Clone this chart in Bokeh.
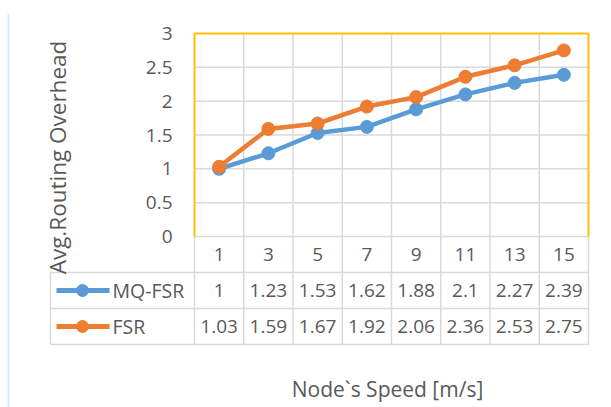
import numpy as np
from bokeh.plotting import figure
from bokeh.models import Range1d
from bokeh.core.properties import value
from bokeh.embed import file_html
from bokeh.resources import INLINE

# ---- data ----
categories = ["1", "3", "5", "7", "9", "11", "13", "15"]
mq_fsr = [1, 1.23, 1.53, 1.62, 1.88, 2.1, 2.27, 2.39]
fsr = [1.03, 1.59, 1.67, 1.92, 2.06, 2.36, 2.53, 2.75]
y_ticks = [0, 0.5, 1, 1.5, 2, 2.5, 3]
y_tick_labels = ["0", "0.5", "1", "1.5", "2", "2.5", "3"]
series_names = ["MQ-FSR", "FSR"]
y_title = "Avg.Routing Overhead"
x_title = "Node`s Speed [m/s]"

# ---- style ----
BLUE = "#5B9BD5"
ORANGE = "#ED7D31"
GOLD = "#FFC000"
GRID = "#D9D9D9"
TEXT = "#595959"
FONT = value("Open Sans")

W, H = 611, 407
slot_px = 49.25      # width of one category slot
unit_px = 67.667     # pixels per 1.0 on the value axis
plot_left_px = 194
plot_top_px = 33
row_px = 36

n = len(categories)
y_top = max(y_ticks)
xmin = -plot_left_px / slot_px
xmax = xmin + W / slot_px
ymax = y_top + plot_top_px / unit_px
ymin = ymax - H / unit_px
h = row_px / unit_px


def px_x(px):
    return xmin + px / slot_px


def px_y(py):
    return ymax - py / unit_px


p = figure(width=W, height=H, output_backend="svg", toolbar_location=None,
           x_range=Range1d(xmin, xmax), y_range=Range1d(ymin, ymax),
           x_axis_location=None, y_axis_location=None, min_border=0)
p.grid.visible = False
p.outline_line_color = None
p.background_fill_color = "white"
p.border_fill_color = "white"

xs = np.arange(n) + 0.5
table_left = px_x(50)

# faint frame line at left
p.segment(x0=[px_x(8)], y0=[px_y(13)], x1=[px_x(8)], y1=[ymin],
          line_color="#DDEBF7", line_width=2)

# horizontal gridlines (inside plot area)
gy = [t for t in y_ticks if 0 < t < y_top]
p.segment(x0=[0] * len(gy), y0=gy, x1=[n] * len(gy), y1=gy,
          line_color=GRID, line_width=1.5)
# vertical gridlines inside plot area
vx = list(range(1, n))
p.segment(x0=vx, y0=[0] * len(vx), x1=vx, y1=[y_top] * len(vx),
          line_color=GRID, line_width=1.5)

# table grid
tv = list(range(0, n + 1))
p.segment(x0=tv, y0=[0] * len(tv), x1=tv, y1=[-3 * h] * len(tv),
          line_color=GRID, line_width=1.5)
p.segment(x0=[table_left], y0=[-h], x1=[table_left], y1=[-3 * h],
          line_color=GRID, line_width=1.5)
p.segment(x0=[0], y0=[0], x1=[n], y1=[0], line_color=GRID, line_width=1.5)
hr = [-h, -2 * h, -3 * h]
p.segment(x0=[table_left] * 3, y0=hr, x1=[n] * 3, y1=hr,
          line_color=GRID, line_width=1.5)

# gold plot border
p.line(x=[0, 0, n, n], y=[0, y_top, y_top, 0], line_color=GOLD, line_width=2)

# series
for vals, col in [(mq_fsr, BLUE), (fsr, ORANGE)]:
    p.line(x=xs, y=vals, line_color=col, line_width=4.5)
    p.scatter(x=xs, y=vals, size=13, fill_color=col, line_color=col)

# y tick labels
p.text(x=[px_x(172)] * len(y_ticks), y=y_ticks, text=y_tick_labels,
       text_align="right", text_baseline="middle", text_color=TEXT,
       text_font=FONT, text_font_size=value("19px"))

# table header (categories)
p.text(x=xs, y=[-h / 2] * n, text=categories, text_align="center",
       text_baseline="middle", text_color=TEXT, text_font=FONT,
       text_font_size=value("19px"))

# table rows
for r, (name, vals, col) in enumerate(zip(series_names, [mq_fsr, fsr], [BLUE, ORANGE])):
    yc = -(r + 1.5) * h
    p.text(x=xs, y=[yc] * n, text=[f"{v:g}" for v in vals], text_align="center",
           text_baseline="middle", text_color=TEXT, text_font=FONT,
           text_font_size=value("19px"))
    p.segment(x0=[px_x(56)], y0=[yc], x1=[px_x(109)], y1=[yc],
              line_color=col, line_width=5)
    p.scatter(x=[px_x(82)], y=[yc], size=12, fill_color=col, line_color=col)
    p.text(x=[px_x(112)], y=[yc], text=[name], text_align="left",
           text_baseline="middle", text_color=TEXT, text_font=FONT,
           text_font_size=value("19.5px"))

# axis titles
p.text(x=[px_x(57)], y=[px_y(157)], text=[y_title], angle=np.pi / 2,
       text_align="center", text_baseline="middle", text_color=TEXT,
       text_font=FONT, text_font_size=value("22.5px"))
p.text(x=[px_x(387)], y=[px_y(388)], text=[x_title], text_align="center",
       text_baseline="middle", text_color=TEXT, text_font=FONT,
       text_font_size=value("21px"))

open("out.html", "w").write(file_html(p, INLINE))
